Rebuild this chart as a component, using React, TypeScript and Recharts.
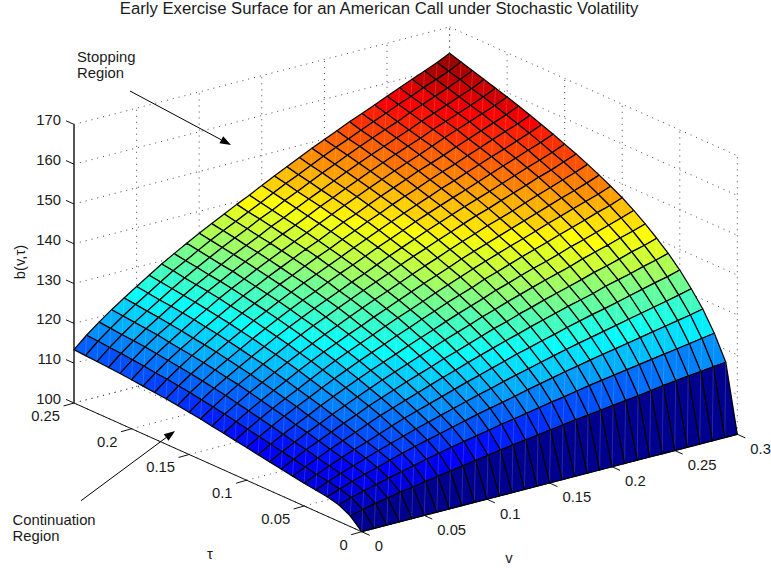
import React from "react";
import { ScatterChart, Scatter, XAxis, YAxis } from "recharts";

const WIDTH = 771;
const HEIGHT = 569;

const vTicks = [0, 0.05, 0.1, 0.15, 0.2, 0.25, 0.3];
const tauTicks = [0, 0.05, 0.1, 0.15, 0.2, 0.25];
const bTicks = [100, 110, 120, 130, 140, 150, 160, 170];

// grid of the surface
const vGrid = [0, 0.01, 0.02, 0.03, 0.04, 0.05, 0.06, 0.07, 0.08, 0.09, 0.1, 0.11, 0.12, 0.13, 0.14, 0.15, 0.16, 0.17, 0.18, 0.19, 0.2, 0.21, 0.22, 0.23, 0.24, 0.25, 0.26, 0.27, 0.28, 0.29, 0.3];
const tauGrid = [0, 0.01, 0.02, 0.03, 0.04, 0.05, 0.06, 0.07, 0.08, 0.09, 0.1, 0.11, 0.12, 0.13, 0.14, 0.15, 0.16, 0.17, 0.18, 0.19, 0.2, 0.21, 0.22, 0.23, 0.24, 0.25];

const B_FLOOR = 100;
const B_TOP = 163.4; // colour limit, highest point of the surface

// b(v,tau) - 100, one row per tauGrid entry, one column per vGrid entry
const boundary = [
  [0, 0, 0, 0, 0, 0, 0, 0, 0, 0, 0, 0, 0, 0, 0, 0, 0, 0, 0, 0, 0, 0, 0, 0, 0, 0, 0, 0, 0, 0, 0],
  [2.7, 3.4, 4.2, 4.7, 5.4, 5.8, 6.4, 6.9, 7.4, 7.9, 8.4, 8.9, 9.4, 9.9, 10.3, 10.8, 11.2, 11.7, 12.1, 12.5, 12.9, 13.3, 13.7, 14.1, 14.5, 15.0, 15.4, 15.8, 16.1, 16.5, 16.8],
  [4.2, 5.2, 6.0, 6.8, 7.6, 8.4, 9.1, 9.9, 10.6, 11.3, 11.9, 12.5, 13.1, 13.8, 14.3, 14.9, 15.5, 16.1, 16.6, 17.2, 17.8, 18.3, 18.8, 19.3, 19.8, 20.3, 20.8, 21.3, 21.8, 22.3, 22.8],
  [4.9, 6.0, 7.1, 8.1, 9.0, 10.0, 10.9, 11.8, 12.6, 13.4, 14.2, 15.0, 15.8, 16.5, 17.2, 17.9, 18.7, 19.4, 20.1, 20.8, 21.4, 22.1, 22.7, 23.3, 23.9, 24.5, 25.1, 25.7, 26.3, 26.9, 27.6],
  [5.3, 6.6, 7.8, 8.9, 10.0, 11.1, 12.1, 13.1, 14.1, 15.0, 15.9, 16.8, 17.7, 18.6, 19.4, 20.3, 21.1, 21.9, 22.7, 23.5, 24.3, 25.0, 25.7, 26.4, 27.1, 27.8, 28.5, 29.2, 29.9, 30.6, 31.4],
  [5.7, 7.1, 8.4, 9.7, 10.9, 12.0, 13.2, 14.4, 15.5, 16.5, 17.5, 18.5, 19.5, 20.5, 21.4, 22.4, 23.3, 24.3, 25.1, 26.0, 26.8, 27.7, 28.5, 29.3, 30.0, 30.8, 31.6, 32.4, 33.2, 33.9, 34.8],
  [6.2, 7.7, 9.1, 10.5, 11.8, 13.1, 14.4, 15.7, 16.8, 17.9, 19.0, 20.1, 21.2, 22.2, 23.3, 24.3, 25.3, 26.3, 27.2, 28.2, 29.1, 30.0, 30.9, 31.7, 32.5, 33.5, 34.3, 35.1, 36.0, 36.8, 37.7],
  [6.7, 8.3, 9.9, 11.3, 12.7, 14.1, 15.4, 16.8, 18.0, 19.2, 20.4, 21.5, 22.6, 23.8, 24.8, 25.9, 27.0, 28.1, 29.0, 30.1, 31.0, 32.0, 32.9, 33.8, 34.7, 35.7, 36.5, 37.4, 38.4, 39.2, 40.2],
  [7.2, 8.9, 10.5, 12.1, 13.5, 15.0, 16.4, 17.8, 19.1, 20.4, 21.6, 22.8, 24.0, 25.2, 26.4, 27.5, 28.6, 29.8, 30.8, 31.9, 32.9, 33.9, 34.9, 35.8, 36.7, 37.8, 38.7, 39.6, 40.6, 41.5, 42.5],
  [7.7, 9.5, 11.2, 12.8, 14.3, 15.9, 17.4, 18.8, 20.2, 21.5, 22.8, 24.0, 25.3, 26.5, 27.7, 28.9, 30.1, 31.2, 32.3, 33.5, 34.5, 35.6, 36.6, 37.5, 38.5, 39.6, 40.5, 41.5, 42.5, 43.5, 44.6],
  [8.2, 10.1, 11.9, 13.6, 15.2, 16.7, 18.3, 19.8, 21.2, 22.6, 23.9, 25.2, 26.5, 27.7, 29.0, 30.2, 31.5, 32.6, 33.7, 35.0, 36.0, 37.1, 38.2, 39.2, 40.2, 41.3, 42.3, 43.3, 44.4, 45.3, 46.5],
  [8.7, 10.7, 12.5, 14.3, 15.9, 17.5, 19.1, 20.7, 22.2, 23.6, 24.9, 26.2, 27.6, 28.9, 30.1, 31.4, 32.7, 33.9, 35.1, 36.3, 37.4, 38.5, 39.6, 40.6, 41.7, 42.8, 43.8, 44.9, 45.9, 46.9, 48.1],
  [9.2, 11.3, 13.2, 15.0, 16.7, 18.3, 20.0, 21.6, 23.1, 24.5, 25.9, 27.2, 28.6, 29.9, 31.2, 32.5, 33.8, 35.0, 36.2, 37.5, 38.6, 39.7, 40.8, 41.9, 43.0, 44.1, 45.2, 46.3, 47.3, 48.4, 49.6],
  [9.7, 11.9, 13.8, 15.7, 17.4, 19.1, 20.8, 22.4, 23.9, 25.4, 26.8, 28.2, 29.6, 30.9, 32.2, 33.5, 34.8, 36.1, 37.3, 38.6, 39.8, 40.9, 42.1, 43.1, 44.2, 45.4, 46.5, 47.6, 48.7, 49.8, 51.0],
  [10.2, 12.4, 14.5, 16.4, 18.1, 19.9, 21.5, 23.2, 24.8, 26.3, 27.7, 29.1, 30.5, 31.9, 33.2, 34.5, 35.9, 37.2, 38.4, 39.7, 40.9, 42.1, 43.3, 44.3, 45.5, 46.6, 47.7, 48.9, 49.9, 51.1, 52.3],
  [10.6, 12.9, 15.0, 16.9, 18.7, 20.5, 22.2, 23.9, 25.5, 27.0, 28.5, 29.9, 31.3, 32.7, 34.0, 35.4, 36.8, 38.1, 39.4, 40.7, 41.9, 43.1, 44.3, 45.4, 46.5, 47.7, 48.8, 50.0, 51.1, 52.2, 53.5],
  [11.0, 13.4, 15.5, 17.5, 19.3, 21.1, 22.9, 24.6, 26.2, 27.8, 29.3, 30.7, 32.2, 33.6, 34.9, 36.3, 37.7, 39.0, 40.3, 41.7, 42.9, 44.1, 45.3, 46.4, 47.6, 48.8, 50.0, 51.1, 52.3, 53.4, 54.7],
  [11.4, 13.8, 16.0, 18.0, 19.9, 21.7, 23.5, 25.3, 26.9, 28.5, 30.0, 31.5, 32.9, 34.3, 35.7, 37.1, 38.5, 39.9, 41.2, 42.5, 43.8, 45.0, 46.3, 47.4, 48.6, 49.8, 51.0, 52.1, 53.3, 54.5, 55.8],
  [11.7, 14.2, 16.4, 18.5, 20.4, 22.3, 24.1, 25.9, 27.5, 29.1, 30.7, 32.1, 33.6, 35.1, 36.4, 37.9, 39.3, 40.7, 42.0, 43.4, 44.7, 45.9, 47.2, 48.4, 49.5, 50.8, 52.0, 53.2, 54.4, 55.5, 56.9],
  [12.0, 14.5, 16.8, 18.9, 20.8, 22.8, 24.6, 26.4, 28.1, 29.7, 31.3, 32.8, 34.3, 35.8, 37.1, 38.6, 40.1, 41.4, 42.8, 44.2, 45.5, 46.8, 48.1, 49.2, 50.4, 51.7, 52.9, 54.1, 55.3, 56.5, 57.9],
  [12.3, 14.9, 17.2, 19.3, 21.3, 23.3, 25.1, 27.0, 28.7, 30.3, 31.9, 33.4, 34.9, 36.4, 37.8, 39.3, 40.8, 42.2, 43.6, 45.0, 46.3, 47.6, 48.9, 50.1, 51.4, 52.7, 53.9, 55.1, 56.3, 57.5, 58.9],
  [12.6, 15.2, 17.6, 19.8, 21.7, 23.7, 25.6, 27.5, 29.2, 30.9, 32.5, 34.0, 35.5, 37.0, 38.4, 39.9, 41.5, 42.9, 44.3, 45.7, 47.1, 48.4, 49.7, 50.9, 52.1, 53.5, 54.7, 55.9, 57.1, 58.4, 59.8],
  [12.8, 15.5, 17.9, 20.1, 22.1, 24.1, 26.0, 27.9, 29.6, 31.3, 33.0, 34.5, 36.0, 37.6, 39.0, 40.6, 42.1, 43.5, 45.0, 46.4, 47.8, 49.1, 50.4, 51.7, 52.9, 54.3, 55.5, 56.7, 58.0, 59.2, 60.7],
  [13.0, 15.7, 18.1, 20.4, 22.4, 24.4, 26.4, 28.3, 30.1, 31.8, 33.5, 35.1, 36.6, 38.2, 39.6, 41.2, 42.7, 44.2, 45.7, 47.1, 48.5, 49.9, 51.2, 52.5, 53.7, 55.1, 56.4, 57.6, 58.9, 60.2, 61.6],
  [13.2, 16.0, 18.4, 20.7, 22.8, 24.8, 26.8, 28.8, 30.5, 32.3, 34.0, 35.6, 37.1, 38.7, 40.2, 41.8, 43.4, 44.8, 46.3, 47.8, 49.2, 50.5, 51.9, 53.2, 54.5, 55.9, 57.1, 58.5, 59.7, 61.0, 62.5],
  [13.4, 16.2, 18.7, 21.0, 23.1, 25.2, 27.2, 29.2, 31.0, 32.8, 34.5, 36.1, 37.7, 39.3, 40.8, 42.4, 44.0, 45.5, 47.0, 48.5, 49.9, 51.3, 52.7, 54.0, 55.3, 56.7, 58.0, 59.3, 60.6, 61.9, 63.4],
];

const stoppingArrow = [{ x: 130, y: 91 }, { x: 231, y: 145 }];
const continuationArrow = [{ x: 81, y: 500.7 }, { x: 175, y: 431 }];

const titleLine = [
  { x: 379, y: 8, text: "Early Exercise Surface for an American Call under Stochastic Volatility", anchor: "middle" },
];

const notes = [
  { x: 77, y: 57, text: "Stopping" },
  { x: 77, y: 73, text: "Region" },
  { x: 12.5, y: 520, text: "Continuation" },
  { x: 12.5, y: 536, text: "Region" },
  { x: 210, y: 554, text: "τ", anchor: "middle" },
  { x: 509, y: 558, text: "v", anchor: "middle" },
  { x: 20, y: 262, text: "b(v,τ)", anchor: "middle", rotate: -90 },
];

// view of the 3D box on the page
function project(v: number, tau: number, b: number) {
  return {
    x: 361.7 + 1252 * v - 1150.8 * tau,
    y: 531.7 - 324.7 * v - 514.8 * tau - 3.98 * (b - B_FLOOR),
  };
}

// MATLAB jet with 64 levels
function jet(b: number) {
  const m = Math.min(64, Math.floor(((b - B_FLOOR) / (B_TOP - B_FLOOR)) * 64) + 1);
  const r = m <= 24 ? 0 : m <= 40 ? (m - 24) / 16 : m <= 56 ? 1 : 1 - (m - 56) / 16;
  const g = m <= 8 ? 0 : m <= 24 ? (m - 8) / 16 : m <= 40 ? 1 : m <= 56 ? (56 - m) / 16 : 0;
  const bl = m <= 8 ? 0.5 + m / 16 : m <= 24 ? 1 : m <= 40 ? (40 - m) / 16 : 0;
  return `rgb(${Math.round(r * 255)},${Math.round(g * 255)},${Math.round(bl * 255)})`;
}

const nCols = vGrid.length;
const surfaceNodes = tauGrid.flatMap((tau, k) => vGrid.map((v, i) => project(v, tau, B_FLOOR + boundary[k][i])));

const bMax = bTicks[bTicks.length - 1];
const vMax = vTicks[vTicks.length - 1];
const tauMax = tauTicks[tauTicks.length - 1];

// pairs of points, every two entries make one segment
const dottedGrid = [
  ...bTicks.flatMap((b) => [project(0, tauMax, b), project(vMax, tauMax, b), project(vMax, tauMax, b), project(vMax, 0, b)]),
  ...vTicks.flatMap((v) => [project(v, tauMax, B_FLOOR), project(v, tauMax, bMax), project(v, 0, B_FLOOR), project(v, tauMax, B_FLOOR)]),
  ...tauTicks.flatMap((t) => [project(vMax, t, B_FLOOR), project(vMax, t, bMax), project(0, t, B_FLOOR), project(vMax, t, B_FLOOR)]),
];

const shift = (p: { x: number; y: number }, dx: number, dy: number) => ({ x: p.x + dx, y: p.y + dy });

const axisLines = [
  project(0, 0, B_FLOOR), project(vMax, 0, B_FLOOR),
  project(0, 0, B_FLOOR), project(0, tauMax, B_FLOOR),
  ...vTicks.flatMap((v) => [project(v, 0, B_FLOOR), shift(project(v, 0, B_FLOOR), 8, 3.6)]),
  ...tauTicks.flatMap((t) => [project(0, t, B_FLOOR), shift(project(0, t, B_FLOOR), -10.5, 3)]),
  ...bTicks.flatMap((b) => [project(0, tauMax, b), shift(project(0, tauMax, b), -8, -3.6)]),
];
const zAxisLine = [project(0, tauMax, B_FLOOR), project(0, tauMax, bMax)];

const tickLabels = [
  ...vTicks.map((v) => ({ ...shift(project(v, 0, B_FLOOR), 13, 14.5), text: String(v), anchor: "start" })),
  ...tauTicks.map((t) => ({ ...shift(project(0, t, B_FLOOR), -14, 13), text: String(t), anchor: "end" })),
  ...bTicks.map((b) => ({ ...shift(project(0, tauMax, b), -13, -4), text: String(b), anchor: "end" })),
];

const none = () => null;

function segments(style: React.SVGProps<SVGLineElement>) {
  return ({ points }: any) => (
    <g>
      {points.map((p: any, n: number) =>
        n % 2 === 0 ? <line key={n} x1={p.x} y1={p.y} x2={points[n + 1].x} y2={points[n + 1].y} {...style} /> : null
      )}
    </g>
  );
}

function renderSurface({ points }: any) {
  const cells = [];
  for (let k = tauGrid.length - 2; k >= 0; k--) {
    for (let i = nCols - 2; i >= 0; i--) {
      const a = points[k * nCols + i];
      const b = points[k * nCols + i + 1];
      const c = points[(k + 1) * nCols + i + 1];
      const d = points[(k + 1) * nCols + i];
      cells.push(
        <g key={`${k}-${i}`}>
          <polygon
            points={`${a.x},${a.y} ${b.x},${b.y} ${c.x},${c.y} ${d.x},${d.y}`}
            fill={jet(B_FLOOR + boundary[k][i])}
            stroke="#000"
            strokeWidth={1.25}
            strokeLinejoin="round"
          />
          <line x1={a.x} y1={a.y} x2={c.x} y2={c.y} stroke="#fff" strokeOpacity={0.22} strokeWidth={0.7} />
        </g>
      );
    }
  }
  return <g>{cells}</g>;
}

function renderArrow({ points }: any) {
  const [p, q] = points;
  const len = Math.hypot(q.x - p.x, q.y - p.y);
  const ux = (q.x - p.x) / len;
  const uy = (q.y - p.y) / len;
  const bx = q.x - ux * 11;
  const by = q.y - uy * 11;
  const head = `${q.x},${q.y} ${bx - uy * 4},${by + ux * 4} ${bx + uy * 4},${by - ux * 4}`;
  return (
    <g>
      <line x1={p.x} y1={p.y} x2={bx} y2={by} stroke="#000" strokeWidth={1} />
      <polygon points={head} fill="#000" />
    </g>
  );
}

const textShape = (size: number) => (props: any) => {
  const { cx, cy, payload } = props;
  return (
    <text
      x={cx}
      y={cy}
      fontFamily="'Liberation Sans', Arial, sans-serif"
      fontSize={size}
      fill="#1a1a1a"
      textAnchor={payload.anchor ?? "start"}
      dominantBaseline="central"
      transform={payload.rotate ? `rotate(${payload.rotate} ${cx} ${cy})` : undefined}
    >
      {payload.text}
    </text>
  );
};

export default function App() {
  return (
    <div style={{ position: "absolute", left: 0, top: 0, width: WIDTH, height: HEIGHT, background: "#fff" }}>
      <ScatterChart width={WIDTH} height={HEIGHT} margin={{ top: 0, right: 0, bottom: 0, left: 0 }}>
        <XAxis type="number" dataKey="x" domain={[0, WIDTH]} hide />
        <YAxis type="number" dataKey="y" domain={[0, HEIGHT]} reversed hide width={0} />
        <Scatter data={dottedGrid} shape={none} isAnimationActive={false}
          line={segments({ stroke: "#444", strokeWidth: 1, strokeDasharray: "1 5" })} />
        <Scatter data={zAxisLine} shape={none} isAnimationActive={false}
          line={segments({ stroke: "#555", strokeWidth: 2 })} />
        <Scatter data={axisLines} shape={none} isAnimationActive={false}
          line={segments({ stroke: "#111", strokeWidth: 1 })} />
        <Scatter data={surfaceNodes} shape={none} isAnimationActive={false} line={renderSurface} />
        <Scatter data={stoppingArrow} shape={none} isAnimationActive={false} line={renderArrow} />
        <Scatter data={continuationArrow} shape={none} isAnimationActive={false} line={renderArrow} />
        <Scatter data={tickLabels} shape={textShape(14.8)} isAnimationActive={false} />
        <Scatter data={notes} shape={textShape(14.8)} isAnimationActive={false} />
        <Scatter data={titleLine} shape={textShape(16.7)} isAnimationActive={false} />
      </ScatterChart>
    </div>
  );
}
